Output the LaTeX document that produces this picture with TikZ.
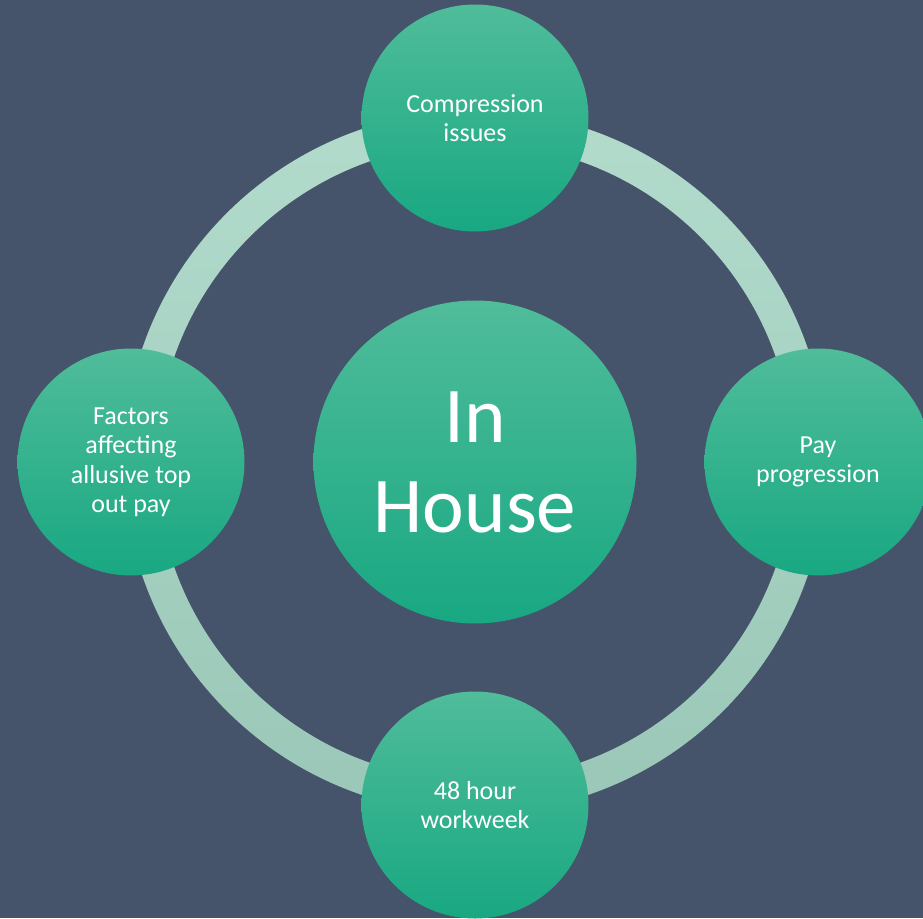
\documentclass[tikz,border=0pt]{standalone}
\usepackage{fontspec}
\setmainfont{Carlito}
\definecolor{slateBg}{RGB}{70, 84, 107}
\definecolor{tealTop}{RGB}{80, 188, 154}
\definecolor{tealMid}{RGB}{36, 180, 141}
\definecolor{tealBottom}{RGB}{24, 168, 130}
\definecolor{ringTop}{RGB}{178, 219, 204}
\definecolor{ringBottom}{RGB}{154, 199, 183}
\usetikzlibrary{
    positioning
}
\tikzset{
    bubble/.style={
        circle,
        minimum size=227pt,
        inner sep=0pt,
        align=center,
        text=white,
        top color=tealTop,
        middle color=tealMid,
        bottom color=tealBottom,
        font=\fontsize{26}{29.5}\selectfont,
    },
    hubnode/.style={
        bubble,
        minimum size=323pt,
        font=\fontsize{79}{90}\selectfont,
    },
}

\begin{document}
\begin{tikzpicture}[x=1pt, y=1pt]
    % page and background
    \fill[slateBg] (0,0) rectangle (923,-918);
    \useasboundingbox (0,0) rectangle (923,-918);

    \coordinate (c) at (475,-462);

    % the ring behind the circles
    \shade[top color=ringTop, bottom color=ringBottom, even odd rule]
        (c) circle (351.5) (c) circle (318.5);

    \begin{scope}
        \node[hubnode] (hub) at (c) {In\\House};
        \node[bubble] (item_top) at (475,-118) {Compression\\issues};
        \node[bubble] (item_right) at (818,-462) {Pay\\progression};
        \node[bubble] (item_bottom) at (475,-805) {48 hour\\workweek};
        \node[bubble] (item_left) at (131,-462) {Factors\\affecting\\allusive top\\out pay};
    \end{scope}
\end{tikzpicture}
\end{document}
